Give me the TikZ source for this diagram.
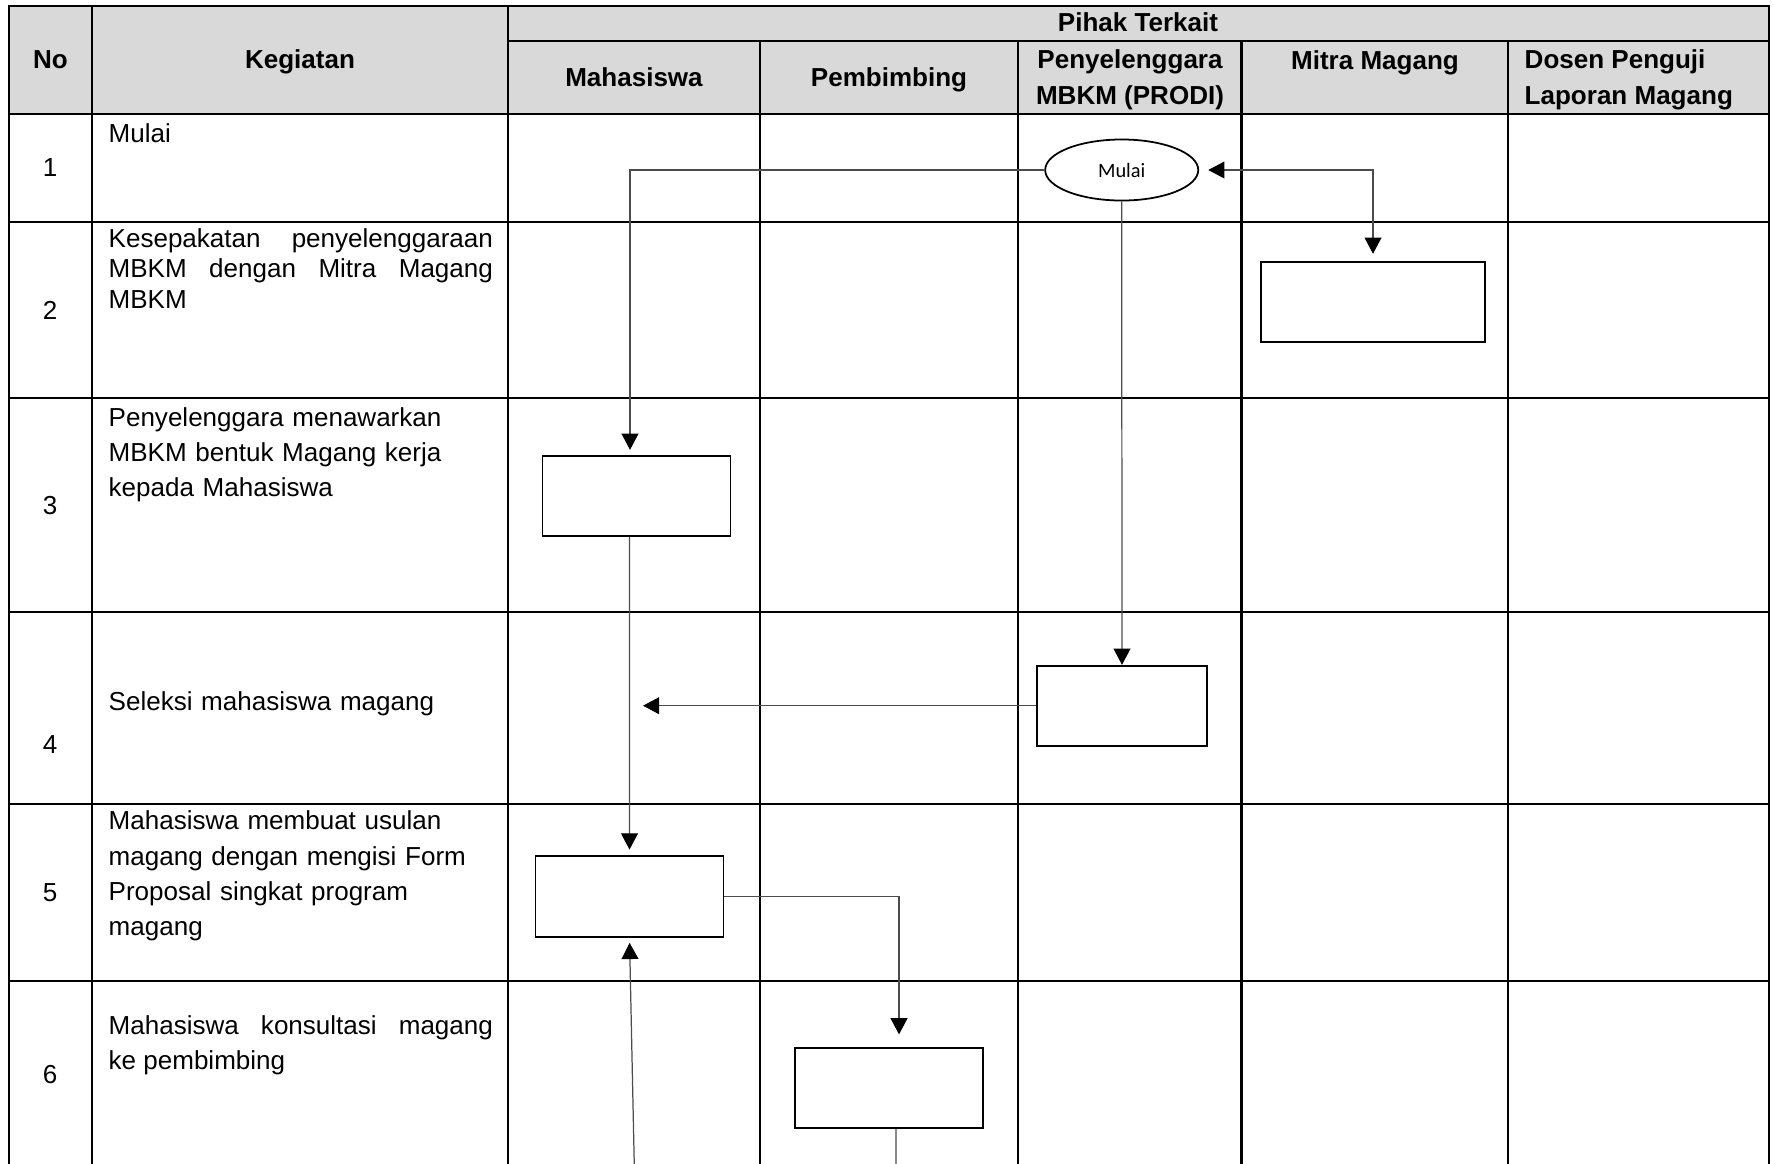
\documentclass[tikz,border=0pt]{standalone}
\usepackage{fontspec}
\setmainfont{Liberation Sans}
\newfontfamily\calibrifont{Carlito}
\usetikzlibrary{arrows.meta}
\usetikzlibrary{shapes}

\begin{document}
\begin{tikzpicture}[x = 0.01cm, y = -0.01cm, font = \fontsize{7.4}{10}\selectfont]
	\tikzstyle{gridStyle} = [line width = 0.6pt]
	\tikzstyle{headStyle} = [font = \fontsize{7.4}{10}\selectfont\bfseries, inner sep = 0pt, anchor = base]
	\tikzstyle{textStyle} = [inner sep = 0pt, anchor = base west, text width = 3.84cm]
	\tikzstyle{numStyle} = [inner sep = 0pt, anchor = base]
	\tikzstyle{boxStyle} = [shape = rectangle, draw, line width = 0.5pt, minimum width = 1.88cm, minimum height = 0.8cm, inner sep = 0pt]
	\tikzstyle{startStyle} = [shape = ellipse, draw, line width = 0.5pt, minimum width = 1.53cm, minimum height = 0.61cm, inner sep = 0pt, font = \calibrifont\fontsize{5.8}{7}\selectfont]
	\tikzstyle{lineStyle} = [draw = black!70, line width = 0.35pt]
	\tikzstyle{flowStyle} = [lineStyle, -{Triangle[length = 4.6pt, width = 4.8pt, color = black]}]
	\tikzstyle{bothStyle} = [lineStyle, {Triangle[length = 4.6pt, width = 4.8pt, color = black]}-{Triangle[length = 4.6pt, width = 4.8pt, color = black]}]
	\useasboundingbox (0,0) rectangle (1773,1163);
	\clip (0,0) rectangle (1773,1163);
	\fill[black!15] (9,6) rectangle (1769,114);
	\draw[gridStyle] (9,6) rectangle (1769,1200);
	\draw[gridStyle] (507.7,41) -- (1769,41);
	\foreach \y in {114, 221.7, 398, 611.7, 803.9, 981.4}
		\draw[gridStyle] (9,\y) -- (1769,\y);
	\foreach \x in {92, 507.7}
		\draw[gridStyle] (\x,6) -- (\x,1200);
	\foreach \x in {760, 1018, 1241.5, 1508}
		\draw[gridStyle] (\x,41) -- (\x,1200);
	\node[headStyle] (hNo) at (50.5,68) {No};
	\node[headStyle] (hKegiatan) at (300,68) {Kegiatan};
	\node[headStyle] (hPihak) at (1138,31) {Pihak Terkait};
	\node[headStyle] (hMahasiswa) at (634,86) {Mahasiswa};
	\node[headStyle] (hPembimbing) at (889,86) {Pembimbing};
	\node[headStyle, align = center] (hProdi) at (1130,104) {Penyelenggara\\MBKM (PRODI)};
	\node[headStyle] (hMitra) at (1375,69) {Mitra Magang};
	\node[headStyle, anchor = base west, align = left] (hDosen) at (1524,104) {Dosen Penguji\\Laporan Magang};
	\foreach \n/\y in {1/176.6, 2/319.1, 3/514.7, 4/753.3, 5/901.4, 6/1083.5}
		\node[numStyle] (no\n) at (50,\y) {\n};
	\node[textStyle, align = left] (keg1) at (108,142.4) {Mulai};
	\node[textStyle, align = justify, font = \fontsize{7.4}{8.6}\selectfont] (keg2) at (108,247.6) {Kesepakatan penyelenggaraan\linebreak MBKM dengan Mitra Magang\linebreak MBKM};
	\node[textStyle, align = left] (keg3) at (108,426.2) {Penyelenggara menawarkan\\MBKM bentuk Magang kerja\\kepada Mahasiswa};
	\node[textStyle, align = left] (keg4) at (108,710) {Seleksi mahasiswa magang};
	\node[textStyle, align = left] (keg5) at (108,829.9) {Mahasiswa membuat usulan\\magang dengan mengisi Form\\Proposal singkat program\\magang};
	\node[textStyle, align = justify] (keg6) at (108,1034.5) {Mahasiswa konsultasi magang\linebreak ke pembimbing};
	\node[startStyle] (mulai) at (1121.7,170) {Mulai};
	\node[boxStyle, minimum width = 2.24cm] (mitra) at (1373,301.7) {};
	\node[boxStyle] (mhsA) at (636.5,496) {};
	\node[boxStyle, minimum width = 1.7cm] (prodi) at (1122,705.7) {};
	\node[boxStyle, minimum height = 0.81cm] (mhsB) at (629.5,896.2) {};
	\node[boxStyle] (pemb) at (889,1088.3) {};
	\coordinate (seleksi) at (643,705.7);
	\coordinate (pembOut) at (896,1200);
	\coordinate (mhsIn) at (635,1200);
	\draw[flowStyle, shorten > = 1.5pt] (mulai.west) -| ([xshift = -0.065cm]mhsA.north);
	\draw[flowStyle] (mulai.south) -- (prodi.north);
	\draw[bothStyle, shorten < = 2.6pt, shorten > = 2pt] (mulai.east) -| (mitra.north);
	\draw[flowStyle, shorten > = 1.5pt] ([xshift = -0.07cm]mhsA.south) -- (mhsB.north);
	\draw[flowStyle] (prodi.west) -- (seleksi);
	\draw[flowStyle, shorten > = 3.7pt] (mhsB.east) -| ([xshift = 0.1cm]pemb.north);
	\draw[lineStyle] ([xshift = 0.07cm]pemb.south) -- (pembOut);
	\draw[flowStyle, shorten > = 1.5pt] (mhsIn) -- (mhsB.south);
\end{tikzpicture}
\end{document}
